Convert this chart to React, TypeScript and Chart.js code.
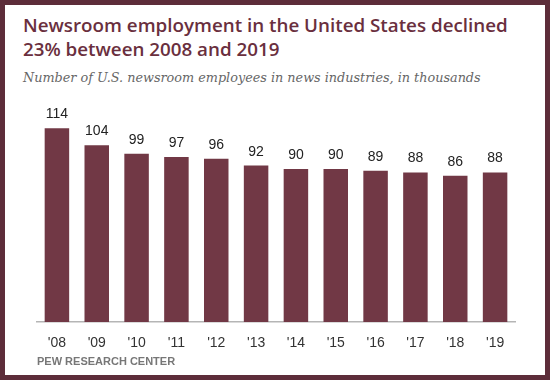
import React, { useEffect, useRef } from "react";
import { Chart, registerables } from "chart.js";

Chart.register(...registerables);

const years = ["'08", "'09", "'10", "'11", "'12", "'13", "'14", "'15", "'16", "'17", "'18", "'19"];
const employees = [114, 104, 99, 97, 96, 92, 90, 90, 89, 88, 86, 88];
const titleLines = ["Newsroom employment in the United States declined", "23% between 2008 and 2019"];
const subtitle = "Number of U.S. newsroom employees in news industries, in thousands";
const source = "PEW RESEARCH CENTER";

const MAROON = "#713845";

const valueLabels = {
  id: "valueLabels",
  afterDatasetsDraw(chart: any) {
    const ctx = chart.ctx;
    const meta = chart.getDatasetMeta(0);
    const data = chart.data.datasets[0].data;
    ctx.save();
    ctx.font = "14px 'Liberation Sans', Arial, sans-serif";
    ctx.fillStyle = "#222";
    ctx.textAlign = "center";
    ctx.textBaseline = "alphabetic";
    meta.data.forEach((bar: any, i: number) => {
      ctx.fillText(String(data[i]), bar.x, bar.y - 10);
    });
    ctx.restore();
  },
};

export default function App() {
  const ref = useRef<HTMLCanvasElement>(null);
  useEffect(() => {
    document.body.style.margin = "0";
    const chart = new Chart(ref.current!, {
      type: "bar",
      data: {
        labels: years,
        datasets: [
          {
            data: employees,
            backgroundColor: MAROON,
            categoryPercentage: 1,
            barPercentage: 0.615,
          },
        ],
      },
      options: {
        animation: false,
        responsive: false,
        layout: { padding: { left: 32, right: 30, top: 96, bottom: 0 } },
        plugins: { legend: { display: false }, tooltip: { enabled: false } },
        scales: {
          y: { display: false, min: 0, max: 130 },
          x: {
            grid: { display: false, drawTicks: false },
            border: { display: true, color: "#b5b5b5", width: 1.5 },
            ticks: {
              color: "#333",
              padding: 13,
              font: { family: "'Liberation Sans', Arial, sans-serif", size: 14 },
            },
            title: {
              display: true,
              text: source,
              align: "start",
              color: "#777",
              padding: { top: 0, bottom: 6 },
              font: { family: "'Liberation Sans', Arial, sans-serif", size: 11, weight: "bold" },
            },
            afterFit: (scale: any) => {
              scale.height = 53;
            },
          },
        },
      },
      plugins: [valueLabels],
    });
    return () => chart.destroy();
  }, []);

  return (
    <div
      style={{
        position: "relative",
        width: 550,
        height: 380,
        boxSizing: "border-box",
        border: "5px solid #5d2d3a",
        background: "#fff",
        overflow: "hidden",
      }}
    >
      <div
        style={{
          position: "absolute",
          left: 18,
          top: 8,
          fontFamily: "'Open Sans', Roboto, sans-serif",
          fontWeight: 600,
          fontSize: 18.8,
          lineHeight: "24px",
          color: "#6a2f3e",
          whiteSpace: "nowrap",
        }}
      >
        {titleLines.map((t, i) => (
          <div key={i}>{t}</div>
        ))}
      </div>
      <div
        style={{
          position: "absolute",
          left: 18,
          top: 64,
          fontFamily: "'DejaVu Serif', serif",
          fontStyle: "italic",
          fontSize: 12.8,
          lineHeight: "18px",
          color: "#666",
          whiteSpace: "nowrap",
        }}
      >
        {subtitle}
      </div>
      <canvas ref={ref} width={540} height={370} style={{ position: "absolute", left: 0, top: 0, width: 540, height: 370 }} />
    </div>
  );
}
